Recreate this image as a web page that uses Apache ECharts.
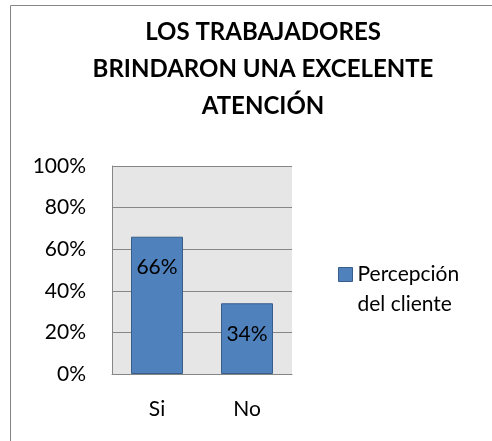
<!DOCTYPE html>
<html>
<head>
<meta charset="utf-8">
<script src="https://cdn.jsdelivr.net/npm/echarts@6/dist/echarts.min.js"></script>
<style>
  html, body { margin: 0; padding: 0; background: #fff; }
  #chart { width: 492px; height: 441px; }
</style>
</head>
<body>
<div id="chart"></div>
<script>
// datos del grafico
var categorias = ['Si', 'No'];
var valores = [0.66, 0.34];
var serieNombre = 'Percepción del cliente';
var leyendaLineas = ['Percepción', 'del cliente'];
var titulo = 'LOS TRABAJADORES\nBRINDARON UNA EXCELENTE\nATENCIÓN';

var fuente = 'Lato';
var e = echarts.init(document.getElementById('chart'));

var option = {
    backgroundColor: '#ffffff',
    animation: false,
    title: {
        text: titulo,
        left: 258,
        top: 9,
        textAlign: 'center',
        textStyle: {
            fontFamily: fuente,
            fontWeight: 'bold',
            fontSize: 24,
            lineHeight: 37,
            color: '#000'
        }
    },
    // borde exterior del grafico
    graphic: [
        {
            type: 'rect',
            shape: { x: 10.5, y: 5.5, width: 600, height: 600 },
            style: { fill: 'none', stroke: '#868686', lineWidth: 1 },
            silent: true,
            z: -1
        }
    ],
    legend: {
        left: 333,
        top: 259,
        orient: 'vertical',
        itemWidth: 14,
        itemHeight: 14,
        itemGap: 0,
        data: [{ name: serieNombre, icon: 'rect', itemStyle: { borderColor: '#385d8a', borderWidth: 1 } }],
        // la segunda linea queda debajo, el cuadro alineado con la primera
        formatter: function () {
            return '{a|' + leyendaLineas[0] + '}\n{a|' + leyendaLineas[1] + '}';
        },
        textStyle: {
            padding: [30, 0, 0, 0],
            rich: {
                a: {
                    fontFamily: fuente,
                    fontSize: 21,
                    lineHeight: 30,
                    color: '#000'
                }
            }
        }
    },
    grid: {
        left: 112,
        top: 166,
        right: 200,
        bottom: 67,
        show: true,
        backgroundColor: '#e6e6e6',
        borderWidth: 0
    },
    xAxis: {
        type: 'category',
        data: categorias,
        axisTick: { show: false },
        axisLine: { lineStyle: { color: '#868686', width: 1 } },
        axisLabel: {
            margin: 25,
            fontFamily: fuente,
            fontSize: 21,
            color: '#000'
        }
    },
    yAxis: {
        type: 'value',
        min: 0,
        max: 1,
        interval: 0.2,
        axisLine: { show: true, lineStyle: { color: '#868686', width: 1 } },
        axisTick: { show: false },
        splitLine: { lineStyle: { color: '#868686', width: 1 } },
        axisLabel: {
            margin: 26,
            fontFamily: fuente,
            fontSize: 21,
            color: '#000',
            formatter: function (v) { return Math.round(v * 100) + '%'; }
        }
    },
    series: [
        {
            name: serieNombre,
            type: 'bar',
            data: valores,
            barWidth: 52,
            itemStyle: {
                color: '#4f81bd',
                borderColor: '#385d8a',
                borderWidth: 1
            },
            label: {
                show: true,
                position: 'insideTop',
                distance: 20,
                fontFamily: fuente,
                fontSize: 21,
                color: '#000',
                formatter: function (p) { return Math.round(p.value * 100) + '%'; }
            }
        }
    ]
};

e.setOption(option);
</script>
</body>
</html>
